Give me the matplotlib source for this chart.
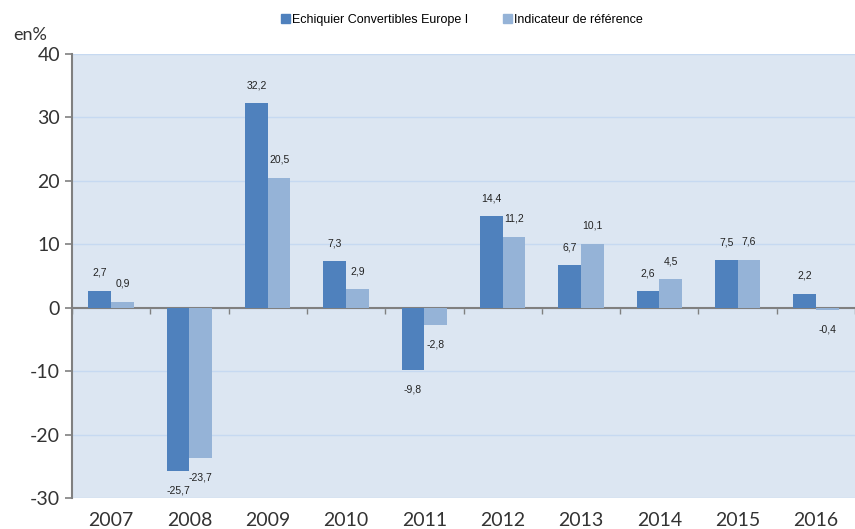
import numpy as np
import matplotlib.pyplot as plt
from matplotlib.patches import Patch

years = ['2007', '2008', '2009', '2010', '2011', '2012', '2013', '2014', '2015', '2016']
fonds = [2.7, -25.7, 32.2, 7.3, -9.8, 14.4, 6.7, 2.6, 7.5, 2.2]
indice = [0.9, -23.7, 20.5, 2.9, -2.8, 11.2, 10.1, 4.5, 7.6, -0.4]
noms = ['Echiquier Convertibles Europe I', 'Indicateur de référence']

c_fonds = '#4F81BD'
c_indice = '#95B3D7'
fond = '#DCE6F2'
grille = '#C6D9F1'

plt.rcParams['font.family'] = ['Lato', 'DejaVu Sans']
plt.rcParams['axes.unicode_minus'] = False

fig = plt.figure(figsize=(8.55, 5.29), dpi=100)
ax = fig.add_axes([72/855, 31/529, 783/855, 444/529])
ax.set_facecolor(fond)

x = np.arange(len(years))
w = 0.29
ax.bar(x - w/2, fonds, w, color=c_fonds, zorder=3)
ax.bar(x + w/2, indice, w, color=c_indice, zorder=3)

def etiquette(xx, v):
    txt = ('%.1f' % v).replace('.', ',')
    dy = 13 if v >= 0 else -14
    ax.annotate(txt, (xx, v), xytext=(0, dy), textcoords='offset points',
                ha='center', va='center', fontsize=7.5, color='#222222',
                family='Liberation Sans')

for i in range(len(years)):
    etiquette(x[i] - w/2, fonds[i])
    etiquette(x[i] + w/2, indice[i])

ax.set_xlim(-0.5, len(years) - 0.5)
ax.set_ylim(-30, 40)
ax.set_yticks(range(-30, 41, 10))
ax.tick_params(axis='y', labelsize=14, colors='#808080', labelcolor='#333333',
               length=5, width=1.2)
ax.yaxis.grid(True, color=grille, linewidth=1, zorder=0)

for s in ['top', 'right']:
    ax.spines[s].set_visible(False)
ax.spines['left'].set_color('#808080')
ax.spines['left'].set_linewidth(1.5)
ax.spines['bottom'].set_position(('data', 0))
ax.spines['bottom'].set_color('#808080')
ax.spines['bottom'].set_linewidth(1.5)
ax.spines['bottom'].set_zorder(2)

ax.set_xticks(np.arange(len(years) + 1) - 0.5)
ax.set_xticklabels([])
ax.tick_params(axis='x', direction='out', length=4, width=1, colors='#808080')
for i, a in enumerate(years):
    ax.text(i, -0.05, a, transform=ax.get_xaxis_transform(), ha='center',
            va='center', fontsize=14, color='#333333')

fig.text(30/855, 1 - 35/529, 'en%', ha='center', va='center', fontsize=13, color='#333333')

handles = [Patch(color=c_fonds), Patch(color=c_indice)]
fig.legend(handles, noms, loc='center', bbox_to_anchor=(462/855, 1 - 20/529), ncol=2,
           frameon=False, prop={'family': 'Liberation Sans', 'size': 9},
           handlelength=0.7, handleheight=0.7, handletextpad=0.2, columnspacing=2.8)

fig.savefig('out.png', dpi=100)
